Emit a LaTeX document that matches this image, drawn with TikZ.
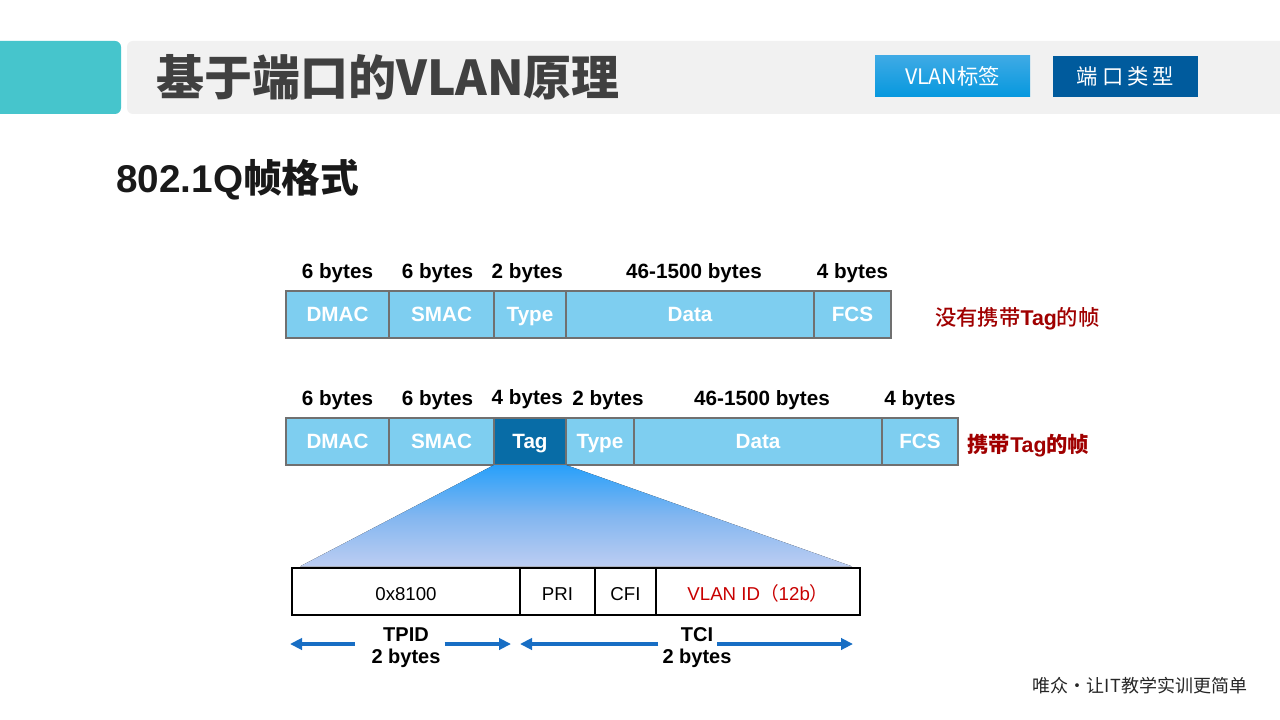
\documentclass[tikz,border=0pt]{standalone}
\usepackage{fontspec}
\setmainfont{Liberation Sans}
\setsansfont{Liberation Sans}
\newfontfamily\cjk{Noto Sans CJK SC}
\newfontfamily\cjkmid{Noto Sans CJK SC Medium}
\usetikzlibrary{arrows.meta,positioning}
\definecolor{cellblue}{RGB}{126,206,240}
\definecolor{cellgray}{RGB}{112,112,112}
\definecolor{tagblue}{RGB}{8,108,166}
\definecolor{tealbar}{RGB}{70,197,204}
\definecolor{headgray}{RGB}{241,241,241}
\definecolor{titlegray}{RGB}{64,64,64}
\definecolor{btntop}{RGB}{62,170,229}
\definecolor{btnbottom}{RGB}{6,152,222}
\definecolor{portblue}{RGB}{0,91,157}
\definecolor{darkred}{RGB}{160,0,0}
\definecolor{vidred}{RGB}{200,0,0}
\definecolor{dimblue}{RGB}{24,110,196}
\definecolor{fantop}{RGB}{40,160,250}
\definecolor{fanmid}{RGB}{130,182,240}
\definecolor{fanbottom}{RGB}{188,205,242}
\tikzset{
  cell/.style={rectangle, draw=cellgray, line width=1.3pt, fill=cellblue,
               minimum height=35.25pt, inner sep=0pt, outer sep=0pt,
               text height=11pt, text depth=0pt,
               text=white, font=\bfseries\fontsize{15.5}{18}\selectfont},
  tagcell/.style={cell, fill=tagblue},
  bytes/.style={font=\bfseries\fontsize{15.5}{18}\selectfont, inner sep=1pt},
  field/.style={rectangle, draw=black, line width=2.2pt, fill=white,
                minimum height=35.25pt, inner sep=0pt, outer sep=0pt,
                text height=14pt, text depth=0pt,
                font=\fontsize{14}{17}\selectfont},
  note/.style={text=darkred, font=\fontsize{16}{18}\selectfont, inner sep=0pt, anchor=west},
  btn/.style={rectangle, minimum height=30.75pt, text=white,
              font=\cjk\fontsize{16}{18}\selectfont},
  dimlabel/.style={align=center, font=\bfseries\fontsize{15}{16.5}\selectfont, inner sep=0pt},
  dimarrow/.style={-{Triangle[length=9pt, width=8.5pt]}, line width=2.6pt, dimblue},
}
\begin{document}
\begin{tikzpicture}[x=0.75pt, y=-0.75pt, node distance=0pt]
\useasboundingbox (0,0) rectangle (1280,720);
\fill[white] (0,0) rectangle (1280,720);

% header
\fill[tealbar, rounded corners=4.5pt] (-10,41) rectangle (121,114);
\fill[headgray, rounded corners=4.5pt] (127,41) rectangle (1290,114);
\node[anchor=west, inner sep=0pt, text=titlegray,
      font=\cjk\bfseries\fontsize{36}{40}\selectfont] (title) at (156,77) {基于端口的VLAN原理};
\node[btn, minimum width=116.25pt, top color=btntop, bottom color=btnbottom] (tagbtn) at (952.5,76.5) {VLAN标签};
\node[btn, minimum width=108.75pt, fill=portblue] (portbtn) at (1125.5,76.5) {端\hspace{3pt}口\hspace{3pt}类\hspace{3pt}型};

\node[anchor=west, inner sep=0pt, text=black!90,
      font=\bfseries\fontsize{29}{32}\selectfont] (subtitle) at (116,180) {802.1Q{\cjk\bfseries 帧格式}};

% untagged frame
\node[cell, minimum width=77.25pt, anchor=north west] (dmaca) at (286,291) {DMAC};
\node[cell, minimum width=78.75pt, right=of dmaca] (smaca) {SMAC};
\node[cell, minimum width=54pt, right=of smaca] (typea) {Type};
\node[cell, minimum width=186pt, right=of typea] (dataa) {Data};
\node[cell, minimum width=57.75pt, right=of dataa] (fcsa) {FCS};
\node[bytes, above=5pt of dmaca] (bdmaca) {6 bytes};
\node[bytes, above=5pt of smaca, xshift=-3pt] (bsmaca) {6 bytes};
\node[bytes, above=5pt of typea, xshift=-2pt] (btypea) {2 bytes};
\node[bytes, above=5pt of dataa, xshift=3pt] (bdataa) {46-1500 bytes};
\node[bytes, above=5pt of fcsa] (bfcsa) {4 bytes};
\node[note, right=33pt of fcsa, yshift=-3pt] (untagged) {{\cjkmid 没有携带}\textbf{Tag}{\cjkmid 的帧}};

% tagged frame
\node[cell, minimum width=77.25pt, anchor=north west] (dmacb) at (286,418) {DMAC};
\node[cell, minimum width=78.75pt, right=of dmacb] (smacb) {SMAC};
\node[tagcell, minimum width=54pt, right=of smacb] (tagb) {Tag};
\node[cell, minimum width=51pt, right=of tagb] (typeb) {Type};
\node[cell, minimum width=186pt, right=of typeb] (datab) {Data};
\node[cell, minimum width=57pt, right=of datab] (fcsb) {FCS};
\node[bytes, above=5pt of dmacb] (bdmacb) {6 bytes};
\node[bytes, above=5pt of smacb, xshift=-3pt] (bsmacb) {6 bytes};
\node[bytes, above=6pt of tagb, xshift=-2pt] (btagb) {4 bytes};
\node[bytes, above=5pt of typeb, xshift=6pt] (btypeb) {2 bytes};
\node[bytes, above=5pt of datab, xshift=3pt] (bdatab) {46-1500 bytes};
\node[bytes, above=5pt of fcsb] (bfcsb) {4 bytes};
\node[note, font=\bfseries\fontsize{16}{18}\selectfont, right=7pt of fcsb, yshift=-3pt] (tagged)
  {{\cjk\bfseries 携带}Tag{\cjk\bfseries 的帧}};

% tag fields
\node[field, minimum width=171pt, anchor=north west] (hex) at (292,568) {0x8100};
\node[field, minimum width=56.25pt, right=of hex] (pri) {PRI};
\node[field, minimum width=45.75pt, right=of pri] (cfi) {CFI};
\node[field, minimum width=153pt, right=of cfi, text=vidred] (vid) {VLAN ID{\cjk （}12b{\cjk ）}};
\fill[top color=fantop, bottom color=fanbottom, middle color=fanmid]
  (tagb.south west) -- (tagb.south east) -- ([xshift=-6pt, yshift=1.2pt]vid.north east)
  -- ([xshift=6pt, yshift=1.2pt]hex.north west) -- cycle;

% sizes
\node[dimlabel] (tpid) at (406,648) {TPID\\2 bytes};
\node[dimlabel] (tci) at (697,648) {TCI\\2 bytes};
\coordinate (tpidl) at (290,644);
\coordinate (tpidr) at (511,644);
\coordinate (tcil) at (520,644);
\coordinate (tcir) at (853,644);
\draw[dimarrow] ([xshift=-12.5pt]tpid.west |- tpidl) -- (tpidl);
\draw[dimarrow] ([xshift=3pt]tpid.east |- tpidl) -- (tpidr);
\draw[dimarrow] ([xshift=-3pt]tci.west |- tcil) -- (tcil);
\draw[dimarrow] ([xshift=-11pt]tci.east |- tcir) -- (tcir);

\node[text=black!85, font=\cjk\fontsize{13.5}{16}\selectfont] (motto) at (1140,686) {唯众•让IT教学实训更简单};
\end{tikzpicture}
\end{document}
